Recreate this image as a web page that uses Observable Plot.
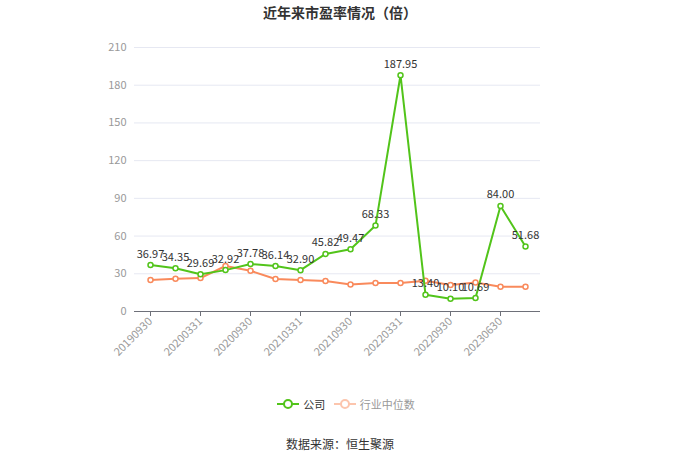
<!DOCTYPE html>
<html>
<head>
<meta charset="utf-8">
<script src="https://cdn.jsdelivr.net/npm/d3@7"></script>
<script src="https://cdn.jsdelivr.net/npm/@observablehq/plot@0.6"></script>
<style>
  body { margin: 0; background: #fff; font-family: "Noto Sans CJK SC", "Noto Sans", sans-serif; }
  #wrap { width: 680px; height: 460px; position: relative; }
  #title { position: absolute; top: 2px; left: 0; width: 680px; text-align: center; font-size: 14px; font-weight: bold; color: #333; }
  #chart { position: absolute; top: 25px; left: 0; }
  #legend { position: absolute; top: 396px; left: 0; width: 680px; text-align: center; font-size: 11px; padding-left: 12px; box-sizing: border-box; }
  #legend span.item { display: inline-flex; align-items: center; margin: 0 3px; }
  #source { position: absolute; top: 435px; left: 0; width: 680px; text-align: center; font-size: 12px; color: #333; }
</style>
</head>
<body>
<div id="wrap">
  <div id="title">近年来市盈率情况（倍）</div>
  <div id="chart"></div>
  <div id="legend">
    <span class="item"><svg width="22" height="12"><line x1="0" y1="6" x2="22" y2="6" stroke="#52c41a" stroke-width="2"/><circle cx="11" cy="6" r="4" fill="#fff" stroke="#52c41a" stroke-width="2"/></svg><span style="color:#333;margin-left:4px">公司</span></span>
    <span class="item"><svg width="22" height="12"><line x1="0" y1="6" x2="22" y2="6" stroke="#fcc5ad" stroke-width="2"/><circle cx="11" cy="6" r="4" fill="#fff" stroke="#fcc5ad" stroke-width="2"/></svg><span style="color:#999;margin-left:4px">行业中位数</span></span>
  </div>
  <div id="source">数据来源：恒生聚源</div>
</div>
<script>
const dates = ["20190930","20191231","20200331","20200630","20200930","20201231","20210331","20210630","20210930","20211231","20220331","20220630","20220930","20230331","20230630","20230930"];
const company = [36.97,34.35,29.69,32.92,37.78,36.14,32.90,45.82,49.47,68.33,187.95,13.40,10.10,10.69,84.00,51.68];
const industry = [25.0,26.0,26.6,36.2,32.4,25.8,25.0,24.2,21.5,22.6,22.6,24.5,21.0,23.1,19.7,19.7];
const tickDates = ["20190930","20200331","20200930","20210331","20210930","20220331","20220930","20230630"];
const yTicks = [0,30,60,90,120,150,180,210];

const green = "#52c41a";
const orange = "#f98a5c";

const comp = dates.map((d,i)=>({date:d, v:company[i]}));
const ind = dates.map((d,i)=>({date:d, v:industry[i]}));

const chart = Plot.plot({
  width: 680,
  height: 340,
  marginTop: 22,
  marginBottom: 54,
  marginLeft: 134,
  marginRight: 140,
  style: { fontFamily: "'Noto Sans CJK SC', 'Noto Sans', sans-serif", fontSize: "11px", background: "#fff" },
  x: { type: "point", domain: dates, padding: 0.5, label: null },
  y: { domain: [0, 210], label: null },
  marks: [
    Plot.gridY(yTicks, { stroke: "#e6e8f2", strokeOpacity: 1 }),
    Plot.axisY(yTicks, { tickSize: 0, tickPadding: 8, fill: "#999", fontSize: 11, label: null }),
    Plot.ruleY([0], { stroke: "#6e7079", strokeWidth: 1 }),
    Plot.axisX(tickDates, { tickRotate: -45, tickSize: 5, stroke: "#6e7079", fill: "#999", fontSize: 11, label: null, tickPadding: 3 }),
    Plot.line(ind, { x: "date", y: "v", stroke: orange, strokeWidth: 2 }),
    Plot.dot(ind, { x: "date", y: "v", r: 2.5, stroke: orange, strokeWidth: 1.5, fill: "#fff" }),
    Plot.line(comp, { x: "date", y: "v", stroke: green, strokeWidth: 2 }),
    Plot.dot(comp, { x: "date", y: "v", r: 2.5, stroke: green, strokeWidth: 1.5, fill: "#fff" }),
    Plot.text(comp, { x: "date", y: "v", text: d => d.v.toFixed(2), dy: -11, fill: "#333", fontSize: 11 })
  ]
});
document.getElementById("chart").appendChild(chart);
</script>
</body>
</html>
